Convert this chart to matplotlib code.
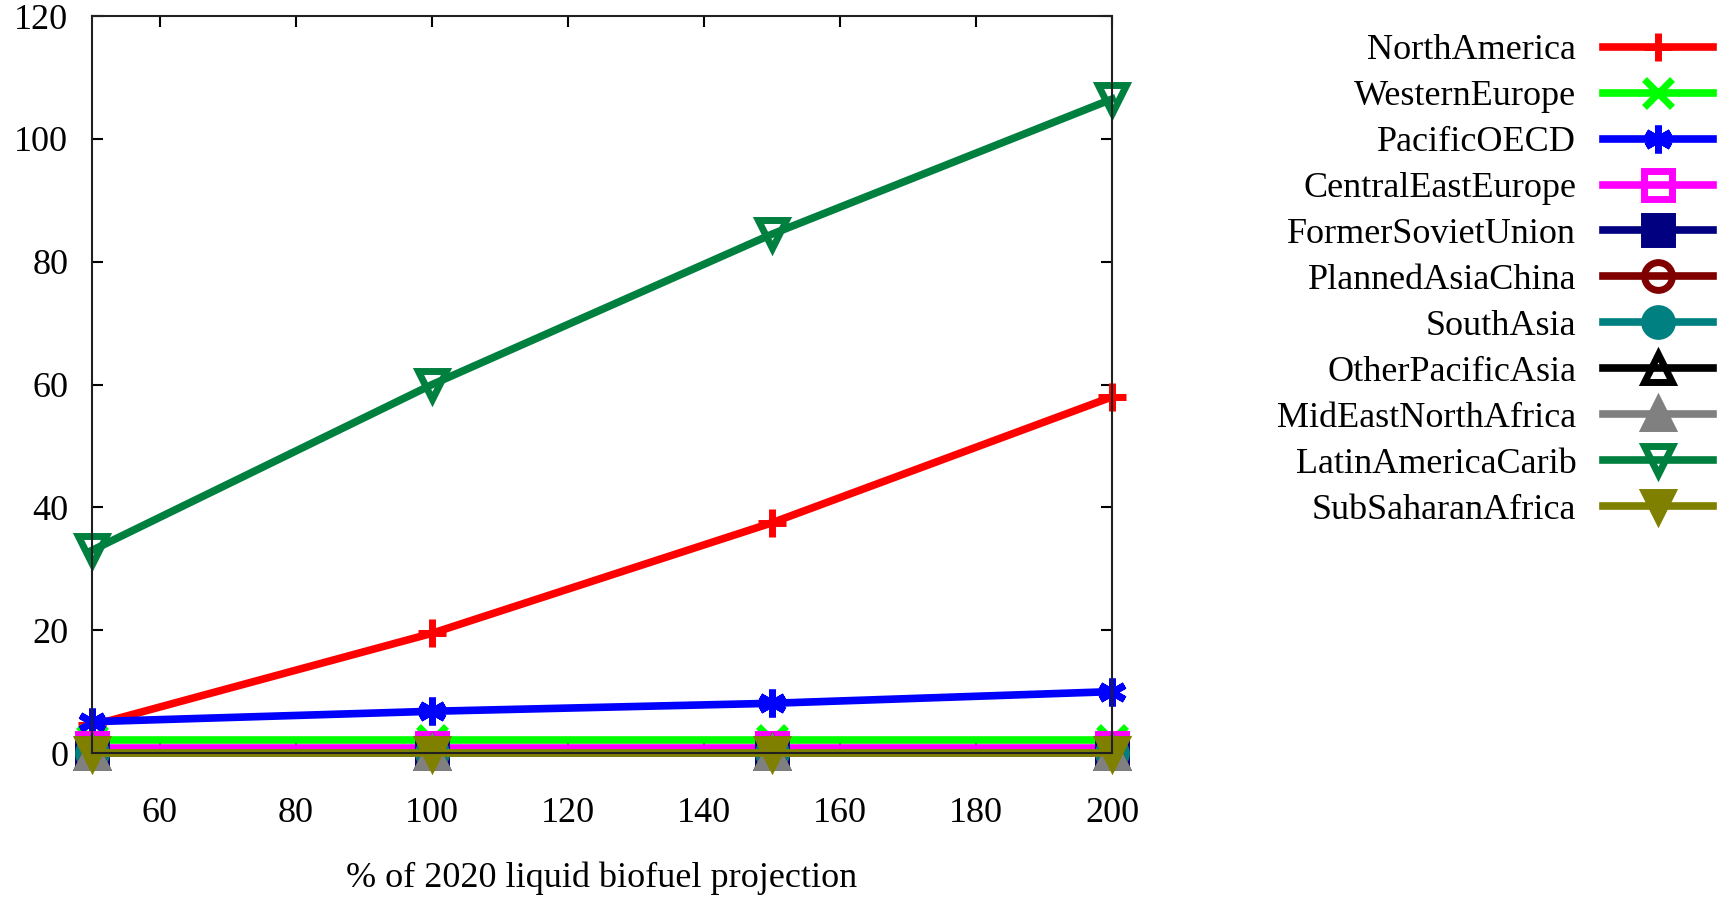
import matplotlib as mpl
import matplotlib.pyplot as plt


# --------------------------------------------------------------
# Data
# --------------------------------------------------------------

pct_projection = [50, 100, 150, 200]

north_america = [4.5, 19.5, 37.5, 58.0]
western_europe = [2.2, 2.2, 2.2, 2.2]
pacific_oecd = [5.1, 6.8, 8.1, 10.0]
central_east_europe = [0.8, 0.8, 0.8, 0.8]
former_soviet_union = [0.0, 0.0, 0.0, 0.0]
planned_asia_china = [0.0, 0.0, 0.0, 0.0]
south_asia = [0.0, 0.0, 0.0, 0.0]
other_pacific_asia = [0.0, 0.0, 0.0, 0.0]
mideast_north_africa = [0.0, 0.0, 0.0, 0.0]
latin_america_carib = [33.0, 60.0, 84.5, 106.5]
sub_saharan_africa = [0.0, 0.0, 0.0, 0.0]

series = [
    ("NorthAmerica", north_america, "#ff0000", "+", "full"),
    ("WesternEurope", western_europe, "#00ff00", "x", "full"),
    ("PacificOECD", pacific_oecd, "#0000ff", (6, 2, 0), "full"),
    ("CentralEastEurope", central_east_europe, "#ff00ff", "s", "none"),
    ("FormerSovietUnion", former_soviet_union, "#000080", "s", "full"),
    ("PlannedAsiaChina", planned_asia_china, "#800000", "o", "none"),
    ("SouthAsia", south_asia, "#008080", "o", "full"),
    ("OtherPacificAsia", other_pacific_asia, "#000000", "^", "none"),
    ("MidEastNorthAfrica", mideast_north_africa, "#808080", "^", "full"),
    ("LatinAmericaCarib", latin_america_carib, "#00803f", "v", "none"),
    ("SubSaharanAfrica", sub_saharan_africa, "#808000", "v", "full"),
]

# --------------------------------------------------------------
# Plot settings
# --------------------------------------------------------------

mpl.rcParams['font.family'] = ['Liberation Serif', 'DejaVu Serif']
mpl.rcParams['font.size'] = 26

fig = plt.figure(figsize=(17.29, 8.97), dpi=100)
ax = fig.add_axes([0.0532, 0.1605, 0.5900, 0.8215])

for label, values, color, marker, fill in series:
    ax.plot(pct_projection, values, color=color, linewidth=5.5,
            marker=marker, markersize=20, markeredgewidth=5,
            fillstyle=fill, label=label, clip_on=False)

ax.set_xlim(50, 200)
ax.set_ylim(0, 120)
ax.set_xticks([60, 80, 100, 120, 140, 160, 180, 200])
ax.set_yticks([0, 20, 40, 60, 80, 100, 120])
ax.tick_params(direction='in', length=8, width=1.5, top=True, right=True)
ax.tick_params(axis='x', pad=32)
ax.tick_params(axis='y', pad=17)
for spine in ax.spines.values():
    spine.set_linewidth(1.5)
    spine.set_color('#202020')

ax.set_xlabel("% of 2020 liquid biofuel projection", labelpad=22)

leg = fig.legend(loc='upper right', bbox_to_anchor=(0.999, 0.978),
                 markerfirst=False, frameon=False, handlelength=3.05,
                 handletextpad=0.73, labelspacing=0.35, borderaxespad=0)

plt.savefig("out.png", dpi=100)
